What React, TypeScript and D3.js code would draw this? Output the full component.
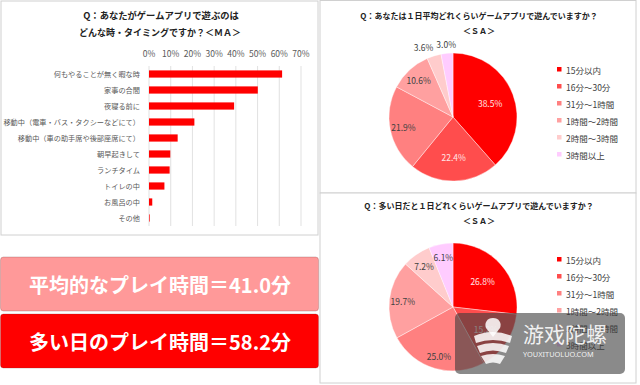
import React from "react";
import * as d3 from "d3";

// timing question (multiple answers, %)
const barCategories = [
  "何もやることが無く暇な時",
  "家事の合間",
  "夜寝る前に",
  "移動中（電車・バス・タクシーなどにて）",
  "移動中（車の助手席や後部座席にて）",
  "朝早起きして",
  "ランチタイム",
  "トイレの中",
  "お風呂の中",
  "その他",
];
const barValues = [61.3, 50.1, 39.2, 20.9, 13.2, 9.8, 9.5, 7.1, 1.5, 0.3];
const barTicks = [0, 10, 20, 30, 40, 50, 60, 70];

// play time per day (single answer, %)
const timeCategories = ["15分以内", "16分～30分", "31分～1時間", "1時間～2時間", "2時間～3時間", "3時間以上"];
const averageDayShares = [38.5, 22.4, 21.9, 10.6, 3.6, 3.0];
const busyDayShares = [26.8, 15.2, 25.0, 19.7, 7.2, 6.1];

const sliceColors = ["#ff0000", "#ff4d4d", "#ff8080", "#ffa0a0", "#ffcccc", "#ffccff"];
const sliceInk = ["#ffe6e6", "#ffe6e6", "#404040", "#404040", "#404040", "#404040"];

const FONT = "'Noto Sans CJK JP', 'Noto Sans', sans-serif";

const BarPanel = () => {
  const x = d3.scaleLinear().domain([0, 70]).range([149, 301]);
  const y = d3
    .scaleBand()
    .domain(barCategories)
    .range([66, 226])
    .paddingInner(0.55)
    .paddingOuter(0.275);

  return (
    <g fontFamily={FONT}>
      <rect x={1} y={1} width={317} height={234} fill="#fff" stroke="#d0d0d0" />
      <text x={161} y={15} textAnchor="middle" dominantBaseline="central" fontSize={9.3} fontWeight="bold" fill="#222">
        Q：あなたがゲームアプリで遊ぶのは
      </text>
      <text x={160} y={32} textAnchor="middle" dominantBaseline="central" fontSize={9} fontWeight="bold" fill="#222">
        どんな時・タイミングですか？＜ＭＡ＞
      </text>
      {barTicks.map((t) => (
        <g key={t}>
          <line x1={x(t)} x2={x(t)} y1={66} y2={226} stroke="#d9d9d9" strokeWidth={0.8} />
          <text x={x(t)} y={53} textAnchor="middle" dominantBaseline="central" fontSize={8.5} fill="#595959">
            {t}%
          </text>
        </g>
      ))}
      {barCategories.map((c, i) => (
        <g key={c}>
          <rect x={x(0)} y={y(c)} width={x(barValues[i]) - x(0)} height={y.bandwidth()} fill="#ff0000" />
          <text
            x={140}
            y={(y(c) || 0) + y.bandwidth() / 2}
            textAnchor="end"
            dominantBaseline="central"
            fontSize={7.2}
            fill="#595959"
          >
            {c}
          </text>
        </g>
      ))}
    </g>
  );
};

const PiePanel = ({ top, title, shares }) => {
  const cx = 453;
  const cy = top + 117;
  const r = 64;
  const arcs = d3.pie().sort(null).value((d) => d)(shares);
  const arc = d3.arc().innerRadius(0).outerRadius(r);
  const innerLabelArc = d3.arc().innerRadius(r * 0.62).outerRadius(r * 0.62);
  const labelArc = d3.arc().innerRadius(r * 0.79).outerRadius(r * 0.79);
  const outerArc = d3.arc().innerRadius(r + 9).outerRadius(r + 9);

  return (
    <g fontFamily={FONT}>
      <text x={479} y={top + 15} textAnchor="middle" dominantBaseline="central" fontSize={8} fontWeight="bold" fill="#222">
        {title}
      </text>
      <text x={479} y={top + 30} textAnchor="middle" dominantBaseline="central" fontSize={8} fontWeight="bold" fill="#222">
        ＜ＳＡ＞
      </text>
      <g transform={`translate(${cx},${cy})`}>
        {arcs.map((a, i) => (
          <path key={i} d={arc(a)} fill={sliceColors[i]} stroke="#fff" strokeWidth={0.4} />
        ))}
        {arcs.map((a, i) => {
          const outside = a.value < 5;
          const [lx, ly] = outside
            ? outerArc.centroid(a)
            : i < 2
            ? innerLabelArc.centroid(a)
            : labelArc.centroid(a);
          const anchor = outside && lx < -10 ? "end" : "middle";
          return (
            <text
              key={i}
              x={anchor === "end" ? lx + 2 : lx}
              y={ly}
              textAnchor={anchor}
              dominantBaseline="central"
              fontSize={8.5}
              fill={outside ? "#404040" : sliceInk[i]}
            >
              {a.value.toFixed(1)}%
            </text>
          );
        })}
      </g>
      {timeCategories.map((c, i) => (
        <g key={c}>
          <rect x={557} y={top + 67 + i * 17} width={4.5} height={4.5} fill={sliceColors[i]} />
          <text x={566} y={top + 69.5 + i * 17} dominantBaseline="central" fontSize={8.5} fill="#404040">
            {c}
          </text>
        </g>
      ))}
    </g>
  );
};

const Banner = ({ y, fill, label }) => (
  <g>
    <rect x={0.5} y={y} width={318} height={54} rx={3} fill={fill} stroke="#6b3030" strokeOpacity={0.25} />
    <text
      x={160}
      y={y + 27}
      textAnchor="middle"
      dominantBaseline="central"
      fontFamily={FONT}
      fontSize={20}
      fontWeight="bold"
      fill="#fff"
    >
      {label}
    </text>
  </g>
);

const Watermark = () => (
  <g>
    <rect x={455} y={313} width={170} height={61} rx={5} fill="#3c3c3c" fillOpacity={0.6} />
    <g fill="#fff" fillOpacity={0.85}>
      <path d="M493,318 c-6,0 -9,5 -7,10 l7,9 l7,-9 c2,-5 -1,-10 -7,-10 z" />
      <path d="M474,336 q19,-8 38,0 l-2,7 q-17,-6 -34,0 z" />
      <path d="M477,346 q16,-6 32,0 l-3,7 q-13,-5 -26,0 z" />
      <path d="M481,356 q12,-4 24,0 l-5,8 q-7,-3 -14,0 z" />
    </g>
    <text x={523} y={333} dominantBaseline="central" fontFamily="'Noto Sans CJK SC', sans-serif" fontSize={21} fill="#fff" fillOpacity={0.9}>
      游戏陀螺
    </text>
    <text x={523} y={354} dominantBaseline="central" fontFamily="'Noto Sans', sans-serif" fontSize={7.4} fill="#fff" fillOpacity={0.9}>
      YOUXITUOLUO.COM
    </text>
  </g>
);

export default function App() {
  return (
    <svg
      width={640}
      height={385}
      style={{ position: "absolute", left: 0, top: 0, display: "block", background: "#fff" }}
    >
      <BarPanel />
      <rect x={320} y={0.5} width={316} height={192.5} fill="#fff" stroke="#d0d0d0" />
      <rect x={320} y={193} width={316} height={190} fill="#fff" stroke="#d0d0d0" />
      <PiePanel top={0} title="Q：あなたは１日平均どれくらいゲームアプリで遊んでいますか？" shares={averageDayShares} />
      <PiePanel top={190} title="Q：多い日だと１日どれくらいゲームアプリで遊んでいますか？" shares={busyDayShares} />
      <Banner y={257} fill="#ff9999" label="平均的なプレイ時間＝41.0分" />
      <Banner y={314} fill="#ff0000" label="多い日のプレイ時間＝58.2分" />
      <Watermark />
    </svg>
  );
}
